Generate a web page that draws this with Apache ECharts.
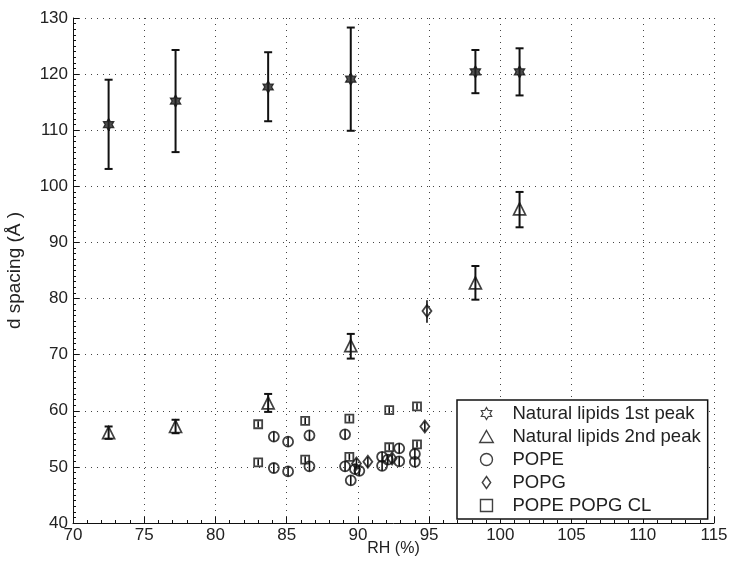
<!DOCTYPE html>
<html>
<head>
<meta charset="utf-8">
<script src="https://cdn.jsdelivr.net/npm/echarts@6/dist/echarts.min.js"></script>
<style>html,body{margin:0;padding:0;background:#fff;}#c{width:730px;height:569px;}</style>
</head>
<body>
<div id="c"></div>
<script>
// ---- Data ----
const seriesNames = ['Natural lipids 1st peak', 'Natural lipids 2nd peak', 'POPE', 'POPG', 'POPE POPG CL'];

const rhNat = [72.5, 77.2, 83.7, 89.5, 98.25, 101.35];
const dNat1 = [111.0, 115.2, 117.7, 119.1, 120.4, 120.4];
const dNat1Low = [103.1, 106.1, 111.6, 109.9, 116.6, 116.2];
const dNat1High = [119.0, 124.3, 123.9, 128.3, 124.3, 124.6];

const dNat2 = [56.1, 57.2, 61.4, 71.6, 82.8, 96.0];
const dNat2Low = [55.0, 56.0, 59.8, 69.3, 79.8, 92.7];
const dNat2High = [57.2, 58.4, 63.0, 73.7, 85.8, 99.0];

const rhPope = [84.1, 84.1, 85.1, 85.1, 86.6, 86.6, 89.1, 89.1, 89.5, 89.8, 90.1, 91.7, 91.7, 92.1, 92.9, 92.9, 94.0, 94.0];
const dPope  = [55.4, 49.8, 54.5, 49.2, 55.6, 50.1, 55.8, 50.1, 47.6, 49.6, 49.3, 51.8, 50.2, 51.3, 53.3, 51.0, 52.3, 50.9];

const rhPopg = [89.9, 90.7, 92.4, 94.7, 94.85];
const dPopg  = [50.6, 50.9, 51.5, 57.2, 77.8];
const dPopgLow  = [49.7, 50.0, 50.6, 56.3, 75.7];
const dPopgHigh = [51.5, 51.8, 52.4, 58.1, 79.7];

const rhCl = [83.0, 83.0, 86.3, 86.3, 89.4, 89.4, 92.2, 92.2, 94.15, 94.15];
const dCl  = [57.6, 50.8, 58.2, 51.3, 58.6, 51.8, 60.1, 53.5, 60.8, 54.0];

const smallErr = 0.9;   // visible half-length of the tiny error bars through POPE markers
const clErr = 0.55;     // tiny error bars inside the square markers

const xTicks = [70, 115, 5];
const yTicks = [40, 130, 10];

// ---- Chart ----
const ink = '#111';
const FONT = 'Liberation Sans, Arial, Helvetica, sans-serif';
const hexagram = 'path://M0,-100L28.9,-50L86.6,-50L57.7,0L86.6,50L28.9,50L0,100L-28.9,50L-86.6,50L-57.7,0L-86.6,-50L-28.9,-50Z';
const icoTri = 'path://M0,-50L52,42L-52,42Z';
const icoCircle = 'path://M-50,0A50,50,0,1,1,50,0A50,50,0,1,1,-50,0Z';
const icoDiamond = 'path://M0,-60L42,0L0,60L-42,0Z';
const icoRect = 'path://M-40,-40L40,-40L40,40L-40,40Z';

function pts(xs, ys) { return xs.map((x, i) => [x, ys[i]]); }
function errs(xs, lo, hi) { return xs.map((x, i) => [x, lo[i], hi[i]]); }

function errSeries(data, lw, cap) {
  return {
    type: 'custom',
    silent: true,
    z: 2,
    encode: { x: 0, y: [1, 2] },
    data: data,
    renderItem: function (params, api) {
      const x = api.value(0), lo = api.value(1), hi = api.value(2);
      const a = api.coord([x, lo]), b = api.coord([x, hi]);
      const st = { stroke: ink, lineWidth: lw };
      const ch = [{ type: 'line', shape: { x1: a[0], y1: a[1], x2: b[0], y2: b[1] }, style: st }];
      if (cap > 0) {
        ch.push({ type: 'line', shape: { x1: a[0] - cap, y1: a[1], x2: a[0] + cap, y2: a[1] }, style: st });
        ch.push({ type: 'line', shape: { x1: b[0] - cap, y1: b[1], x2: b[0] + cap, y2: b[1] }, style: st });
      }
      return { type: 'group', children: ch };
    }
  };
}

const popeErrData = rhPope.map((x, i) => [x, dPope[i] - smallErr, dPope[i] + smallErr]);
const clErrData = rhCl.map((x, i) => [x, dCl[i] - clErr, dCl[i] + clErr]);

const axisText = { color: '#222', fontSize: 17, fontFamily: FONT };
const gridLine = { show: true, lineStyle: { color: '#444', type: [1, 5], width: 1 } };
const openStyle = { color: 'transparent', borderColor: ink, borderWidth: 1.4 };

const chart = echarts.init(document.getElementById('c'), null, { renderer: 'canvas' });
chart.setOption({
  animation: false,
  backgroundColor: '#fff',
  textStyle: { fontFamily: FONT },
  grid: { left: 73, right: 16, top: 18, bottom: 46, containLabel: false, outerBoundsMode: 'none' },
  xAxis: {
    type: 'value', min: xTicks[0], max: xTicks[1], interval: xTicks[2],
    name: 'RH (%)', nameLocation: 'middle', nameGap: 18, nameMoveOverlap: false,
    nameTextStyle: { color: '#222', fontSize: 16, fontFamily: FONT },
    axisLine: { show: true, onZero: false, lineStyle: { color: ink, width: 1 } },
    axisTick: { show: true, inside: true, length: 6, lineStyle: { color: ink } },
    minorTick: { show: true, splitNumber: 5, length: 3, lineStyle: { color: ink } },
    axisLabel: Object.assign({ margin: 4 }, axisText),
    splitLine: gridLine
  },
  yAxis: {
    type: 'value', min: yTicks[0], max: yTicks[1], interval: yTicks[2],
    name: 'd spacing (Å )', nameLocation: 'middle', nameGap: 49, nameMoveOverlap: false,
    nameTextStyle: { color: '#222', fontSize: 19, fontFamily: FONT },
    axisLine: { show: true, onZero: false, lineStyle: { color: ink, width: 1 } },
    axisTick: { show: true, inside: true, length: 6, lineStyle: { color: ink } },
    minorTick: { show: true, splitNumber: 10, length: 3, lineStyle: { color: ink } },
    axisLabel: Object.assign({ margin: 5 }, axisText),
    splitLine: gridLine
  },
  legend: {
    orient: 'vertical', left: 457, top: 400,
    backgroundColor: '#fff',
    borderColor: ink, borderWidth: 1.5, borderRadius: 0,
    padding: [4, 7, 4, 22],
    itemWidth: 42, itemHeight: 12, itemGap: 4,
    symbolKeepAspect: true,
    textStyle: { color: '#222', fontSize: 18.5, fontFamily: FONT },
    data: [
      { name: seriesNames[0], icon: hexagram, itemStyle: { color: 'transparent', borderColor: ink, borderWidth: 1.2 } },
      { name: seriesNames[1], icon: icoTri, itemStyle: openStyle },
      { name: seriesNames[2], icon: icoCircle, itemStyle: openStyle },
      { name: seriesNames[3], icon: icoDiamond, itemStyle: openStyle },
      { name: seriesNames[4], icon: icoRect, itemStyle: openStyle }
    ]
  },
  series: [
    errSeries(errs(rhNat, dNat1Low, dNat1High), 2, 4),
    errSeries(errs(rhNat, dNat2Low, dNat2High), 2, 4),
    errSeries(popeErrData, 1.6, 0),
    errSeries(errs(rhPopg, dPopgLow, dPopgHigh), 1.6, 0),
    errSeries(clErrData, 1.6, 0),
    {
      name: seriesNames[0], type: 'scatter', z: 3,
      symbol: hexagram, symbolKeepAspect: true, symbolSize: 12,
      itemStyle: { color: '#222', borderColor: ink, borderWidth: 1.2 },
      data: pts(rhNat, dNat1)
    },
    {
      name: seriesNames[1], type: 'scatter', z: 3,
      symbol: 'triangle', symbolSize: 12,
      itemStyle: { color: 'transparent', borderColor: ink, borderWidth: 1.7 },
      data: pts(rhNat, dNat2)
    },
    {
      name: seriesNames[2], type: 'scatter', z: 3,
      symbol: 'circle', symbolSize: 10,
      itemStyle: { color: 'transparent', borderColor: ink, borderWidth: 1.8 },
      data: pts(rhPope, dPope)
    },
    {
      name: seriesNames[3], type: 'scatter', z: 3,
      symbol: 'diamond', symbolSize: [9, 12],
      itemStyle: { color: 'transparent', borderColor: ink, borderWidth: 1.8 },
      data: pts(rhPopg, dPopg)
    },
    {
      name: seriesNames[4], type: 'scatter', z: 3,
      symbol: 'rect', symbolSize: 8,
      itemStyle: { color: 'transparent', borderColor: ink, borderWidth: 1.8 },
      data: pts(rhCl, dCl)
    }
  ]
});
</script>
</body>
</html>
